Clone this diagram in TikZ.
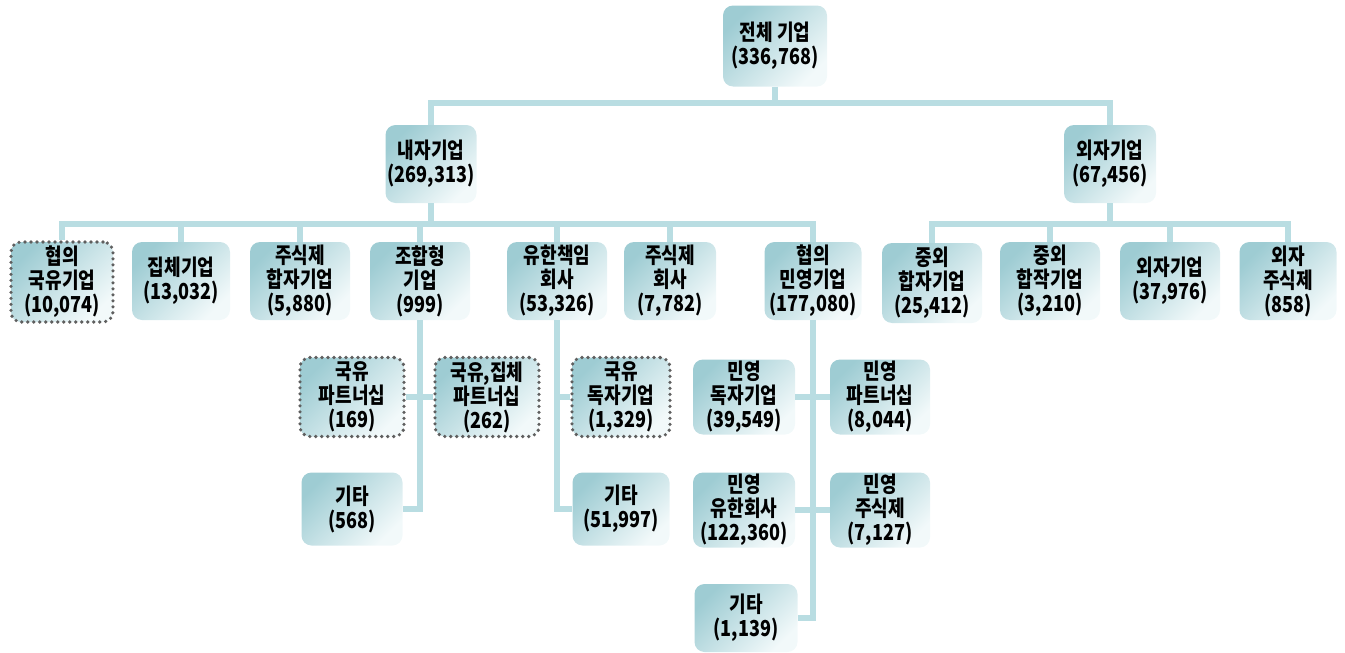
\documentclass[tikz,border=0pt]{standalone}
\usepackage{fontspec}
\setmainfont{Noto Sans CJK KR}[FakeStretch=0.82]
\definecolor{boxa}{RGB}{158,204,211}
\definecolor{boxb}{RGB}{242,249,250}
\definecolor{linec}{RGB}{185,221,226}
\definecolor{dotc}{RGB}{95,95,95}
\tikzset{
  box/.style={shade, top color=boxa, bottom color=boxb, shading angle=45,
    rounded corners=10pt, align=center, inner sep=0pt,
    font=\fontsize{22}{24}\selectfont\bfseries, text=black},
  dotbox/.style={box, draw=dotc, line width=3.6pt, dash pattern=on 0pt off 6pt, line cap=round},
  conn/.style={draw=linec, line width=6pt}
}
\begin{document}
\begin{tikzpicture}[x=1pt,y=-1pt]
\useasboundingbox (0,0) rectangle (1345,653);
% level 0/1
\node[box, minimum width=104pt, minimum height=81pt] (top) at (775,46) {전체 기업\\(336,768)};
\node[box, minimum width=91pt, minimum height=78pt] (naeja) at (431,164) {내자기업\\(269,313)};
\node[box, minimum width=92pt, minimum height=78pt] (oeja) at (1110,164) {외자기업\\(67,456)};
% level 2 left
\node[dotbox, minimum width=102pt, minimum height=80pt] (n1) at (62,282) {협의\\국유기업\\(10,074)};
\node[box, minimum width=98pt, minimum height=78pt] (n2) at (181,281) {집체기업\\(13,032)};
\node[box, minimum width=100pt, minimum height=78pt] (n3) at (300,281) {주식제\\합자기업\\(5,880)};
\node[box, minimum width=100pt, minimum height=78pt] (n4) at (420,281) {조합형\\기업\\(999)};
\node[box, minimum width=100pt, minimum height=78pt] (n5) at (557,281) {유한책임\\회사\\(53,326)};
\node[box, minimum width=92pt, minimum height=78pt] (n6) at (670,281) {주식제\\회사\\(7,782)};
\node[box, minimum width=97pt, minimum height=78pt] (n7) at (813,281) {협의\\민영기업\\(177,080)};
% level 2 right
\node[box, minimum width=100pt, minimum height=80pt] (r1) at (932,283) {중외\\합자기업\\(25,412)};
\node[box, minimum width=100pt, minimum height=78pt] (r2) at (1050,281) {중외\\합작기업\\(3,210)};
\node[box, minimum width=100pt, minimum height=78pt] (r3) at (1170,281) {외자기업\\(37,976)};
\node[box, minimum width=97pt, minimum height=78pt] (r4) at (1288,281) {외자\\주식제\\(858)};
% level 3
\node[dotbox, minimum width=104pt, minimum height=79pt] (p1) at (352,397) {국유\\파트너십\\(169)};
\node[dotbox, minimum width=104pt, minimum height=79pt] (p2) at (487,397) {국유,집체\\파트너십\\(262)};
\node[dotbox, minimum width=98pt, minimum height=79pt] (p3) at (621,397) {국유\\독자기업\\(1,329)};
\node[box, minimum width=101pt, minimum height=73pt] (g1) at (352,509) {기타\\(568)};
\node[box, minimum width=97pt, minimum height=73pt] (g2) at (621,509) {기타\\(51,997)};
\node[box, minimum width=102pt, minimum height=75pt] (m1) at (744,397) {민영\\독자기업\\(39,549)};
\node[box, minimum width=100pt, minimum height=75pt] (m2) at (880,397) {민영\\파트너십\\(8,044)};
\node[box, minimum width=102pt, minimum height=75pt] (m3) at (744,510) {민영\\유한회사\\(122,360)};
\node[box, minimum width=100pt, minimum height=75pt] (m4) at (880,510) {민영\\주식제\\(7,127)};
\node[box, minimum width=103pt, minimum height=68pt] (g3) at (746,618) {기타\\(1,139)};
% connectors
\coordinate (b1) at (775,103);
\coordinate (b2) at (431,224);
\coordinate (b3) at (1110,224);
\draw[conn] (top.south) -- (b1);
\draw[conn] (naeja.north) -- (naeja.north |- b1) -- (oeja.north |- b1) -- (oeja.north);
\draw[conn] (naeja.south) -- (b2);
\draw[conn] (n1.north) -- (n1.north |- b2) -- (n7.north |- b2) -- (n7.north);
\foreach \k in {n2,n3,n4,n5,n6} \draw[conn] (\k.north) -- (\k.north |- b2);
\draw[conn] (oeja.south) -- (b3);
\draw[conn] (r1.north) -- (r1.north |- b3) -- (r4.north |- b3) -- (r4.north);
\foreach \k in {r2,r3} \draw[conn] (\k.north) -- (\k.north |- b3);
\draw[conn] (n4.south) |- (g1.east);
\draw[conn] (p1.east) -- (p2.west);
\draw[conn] (n5.south) |- (g2.west);
\draw[conn] (n5.south |- p3.west) -- (p3.west);
\draw[conn] (n7.south) |- (g3.east);
\draw[conn] (m1.east) -- (m2.west);
\draw[conn] (m3.east) -- (m4.west);
\end{tikzpicture}
\end{document}
